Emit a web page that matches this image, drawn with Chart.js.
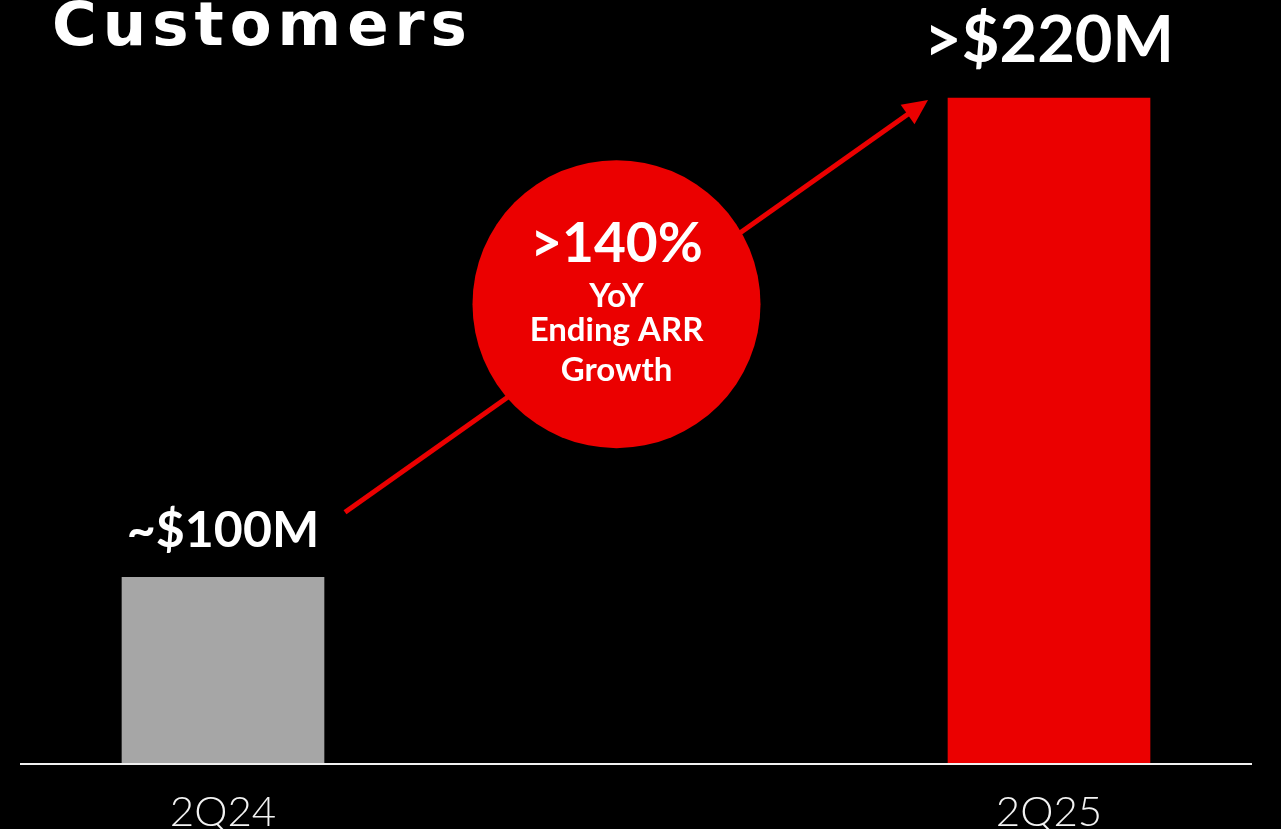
<!DOCTYPE html>
<html>
<head>
<meta charset="utf-8">
<script src="https://cdn.jsdelivr.net/npm/chart.js@4.4.1/dist/chart.umd.min.js"></script>
<style>
  html, body { margin: 0; padding: 0; background: #000; }
  #wrap { width: 1281px; height: 829px; overflow: hidden; }
</style>
</head>
<body>
<div id="wrap"><canvas id="arrChart" width="1281" height="829"></canvas></div>
<script>
// ---- data ----
const quarters = ["2Q24", "2Q25"];
const arrValues = [100, 220];            // ending ARR, $M
const valueLabels = ["~$100M", ">$220M"];
const barColors = ["#a6a6a6", "#eb0000"];
const growthLines = [">140%", "YoY", "Ending ARR", "Growth"];
const titleText = "Customers";
const axisMin = 53.5;                    // value axis is cut, bars start here
const axisMax = 220;

const RED = "#eb0000";
const FONT = "Lato, 'Open Sans', sans-serif";

// title, baseline, value labels, growth arrow + bubble
const overlay = {
  id: "overlay",
  afterDatasetsDraw(chart) {
    const { ctx, chartArea } = chart;
    const bars = chart.getDatasetMeta(0).data;
    ctx.save();

    // title
    ctx.fillStyle = "#fff";
    ctx.font = "700 61px 'DejaVu Sans', sans-serif";
    ctx.textAlign = "left";
    ctx.textBaseline = "alphabetic";
    ctx.letterSpacing = "6px";
    ctx.fillText(titleText, 52, 45);
    ctx.letterSpacing = "0px";

    // baseline
    ctx.strokeStyle = "#f0f0f0";
    ctx.lineWidth = 2;
    ctx.beginPath();
    ctx.moveTo(20, chartArea.bottom + 1);
    ctx.lineTo(1252, chartArea.bottom + 1);
    ctx.stroke();

    // value labels over bars
    ctx.textAlign = "center";
    ctx.fillStyle = "#fff";
    const sizes = [50, 65];
    const gaps = [30, 36];
    bars.forEach((b, i) => {
      ctx.font = "700 " + sizes[i] + "px " + FONT;
      ctx.fillText(valueLabels[i], b.x, b.y - gaps[i]);
    });

    // arrow from first label to second bar
    const x0 = bars[0].x + 122, y0 = bars[0].y - 65;
    const x1 = bars[1].x - 121, y1 = bars[1].y + 2;
    const len = Math.hypot(x1 - x0, y1 - y0);
    const ux = (x1 - x0) / len, uy = (y1 - y0) / len;
    const headLen = 25, headW = 12;
    const bx = x1 - ux * headLen, by = y1 - uy * headLen;
    ctx.strokeStyle = RED;
    ctx.fillStyle = RED;
    ctx.lineWidth = 5;
    ctx.beginPath();
    ctx.moveTo(x0, y0);
    ctx.lineTo(bx + ux * 2, by + uy * 2);
    ctx.stroke();
    ctx.beginPath();
    ctx.moveTo(x1, y1);
    ctx.lineTo(bx - uy * headW, by + ux * headW);
    ctx.lineTo(bx + uy * headW, by - ux * headW);
    ctx.closePath();
    ctx.fill();

    // growth bubble
    const cx = (x0 + x1) / 2 - 20, cy = (y0 + y1) / 2 - 2;
    ctx.beginPath();
    ctx.arc(cx, cy, 144, 0, Math.PI * 2);
    ctx.fill();

    ctx.fillStyle = "#fff";
    const lineFonts = ["700 55px ", "700 33px ", "700 33px ", "700 33px "];
    const lineY = [-42, 3, 37, 77];
    growthLines.forEach((t, i) => {
      ctx.font = lineFonts[i] + FONT;
      ctx.fillText(t, cx, cy + lineY[i]);
    });

    ctx.restore();
  }
};

new Chart(document.getElementById("arrChart"), {
  type: "bar",
  data: {
    labels: quarters,
    datasets: [{
      data: arrValues,
      base: axisMin,
      backgroundColor: barColors,
      barThickness: 202,
      borderWidth: 0,
      clip: false
    }]
  },
  options: {
    responsive: false,
    animation: false,
    layout: { padding: { left: 223, right: 232, top: 98, bottom: 0 } },
    plugins: {
      legend: { display: false },
      tooltip: { enabled: false }
    },
    scales: {
      x: {
        offset: false,
        grid: { display: false },
        border: { display: false },
        ticks: {
          color: "#f2f2f2",
          font: { family: FONT, size: 42, weight: 300 },
          padding: 16,
          maxRotation: 0,
          autoSkip: false
        },
        afterFit(scale) { scale.height = 66; }
      },
      y: {
        display: false,
        beginAtZero: false,
        min: axisMin,
        max: axisMax
      }
    }
  },
  plugins: [overlay]
});
</script>
</body>
</html>
